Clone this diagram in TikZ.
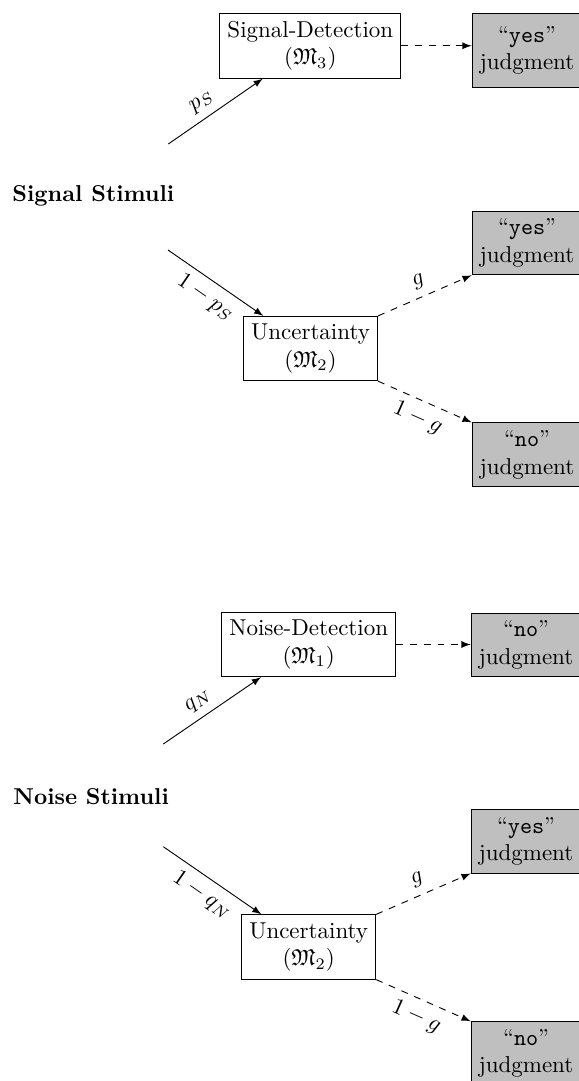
\documentclass[tikz,border=0pt]{standalone}
\usepackage{amssymb}
\usetikzlibrary{calc}
\newcommand{\jyes}{``\texttt{yes}''\\judgment}
\newcommand{\jno}{``\texttt{no}''\\judgment}
\tikzset{
	model/.style={draw, align=center},
	judge/.style={draw, fill=gray!50, align=center, anchor=west},
	resp/.style={dashed, -latex},
	stim/.style={-latex},
}

\begin{document}
\begin{tikzpicture}
		%%%%% START %%%%%
		\useasboundingbox (0, 0) rectangle (8.853, -16.529);
		
		% signal stimuli
		\node[anchor=west] (sig) at (0.066, -3.0) {\textbf{Signal Stimuli}};
		\coordinate (sTop) at (2.573, -2.202);
		\coordinate (sBot) at (2.569, -3.823);
		
		\node[model] (SD) at (4.745, -0.700) {Signal-Detection\\$(\mathfrak{M}_3)$};
		\node[judge, minimum height=1.13cm] (SDyes) at (7.212, -0.769) {\jyes};
		\draw[resp] (SD.east) -- (SD.east -| SDyes.west);
		\draw[stim] (sTop) -- node[sloped, above, pos=0.45] {$p_S$} (SD);
		
		\node[model] (SU) at (4.748, -5.329) {Uncertainty\\$(\mathfrak{M}_2)$};
		\node[judge] (SUyes) at (7.212, -3.716) {\jyes};
		\node[judge] (SUno) at (7.212, -6.952) {\jno};
		\draw[stim] (sBot) -- node[sloped, below] {$1-p_S$} (SU);
		\draw[resp] (SU.north east) -- node[sloped, above] {$g$} (SUyes.south west);
		\draw[resp] (SU.south east) -- node[sloped, below] {$1-g$} (SUno.north west);
		
		% noise stimuli
		\node[anchor=west] (noi) at (0.08, -12.18) {\textbf{Noise Stimuli}};
		\coordinate (nTop) at (2.497, -11.376);
		\coordinate (nBot) at (2.497, -12.946);
		
		\node[model] (ND) at (4.720, -9.855) {Noise-Detection\\$(\mathfrak{M}_1)$};
		\node[judge] (NDno) at (7.197, -9.859) {\jno};
		\draw[resp] (ND.east) -- (ND.east -| NDno.west);
		\draw[stim] (nTop) -- node[sloped, above, pos=0.45] {$q_N$} (ND);
		
		\node[model] (NU) at (4.720, -14.480) {Uncertainty\\$(\mathfrak{M}_2)$};
		\node[judge] (NUyes) at (7.197, -12.862) {\jyes};
		\node[judge] (NUno) at (7.197, -16.109) {\jno};
		\draw[stim] (nBot) -- node[sloped, below] {$1-q_N$} (NU);
		\draw[resp] (NU.north east) -- node[sloped, above] {$g$} (NUyes.south west);
		\draw[resp] (NU.south east) -- node[sloped, below] {$1-g$} (NUno.north west);
		%%%%% END %%%%%
	\end{tikzpicture}
\end{document}
